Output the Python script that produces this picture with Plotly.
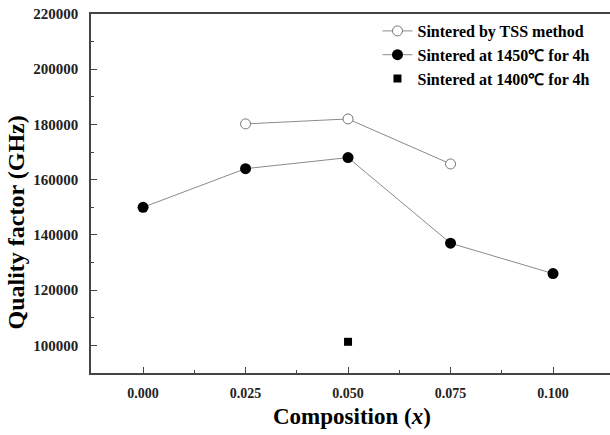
import plotly.graph_objects as go

x_tss = [0.025, 0.050, 0.075]
q_tss = [180200, 182000, 165700]
x_1450 = [0.000, 0.025, 0.050, 0.075, 0.100]
q_1450 = [150000, 164000, 168000, 137000, 126000]
x_1400 = [0.050]
q_1400 = [101300]
names = ["Sintered by TSS method", "Sintered at 1450\u2103 for 4h", "Sintered at 1400\u2103 for 4h"]
x_ticks = [0.000, 0.025, 0.050, 0.075, 0.100]
x_ticklabels = ["0.000", "0.025", "0.050", "0.075", "0.100"]
x_minor_ticks = [0.0125, 0.0375, 0.0625, 0.0875]
y_ticks = [100000, 120000, 140000, 160000, 180000, 200000, 220000]
y_ticklabels = ["100000", "120000", "140000", "160000", "180000", "200000", "220000"]
x_title = "Composition (<i>x</i>)"
y_title = "Quality factor (GHz)"

font = "Liberation Serif"
fig = go.Figure()
fig.add_trace(go.Scatter(x=x_tss, y=q_tss, mode="lines+markers", name=names[0],
                         line=dict(color="#8a8a8a", width=1),
                         marker=dict(symbol="circle", size=10, color="white",
                                     line=dict(color="#777777", width=1))))
fig.add_trace(go.Scatter(x=x_1450, y=q_1450, mode="lines+markers", name=names[1],
                         line=dict(color="#8a8a8a", width=1),
                         marker=dict(symbol="circle", size=11, color="black")))
fig.add_trace(go.Scatter(x=x_1400, y=q_1400, mode="markers", name=names[2],
                         marker=dict(symbol="square", size=8, color="black")))

fig.update_layout(
    width=610, height=435,
    margin=dict(l=91, r=0, t=14, b=62),
    plot_bgcolor="white", paper_bgcolor="white",
    font=dict(family=font, color="black"),
    showlegend=True,
    legend=dict(x=0.552, y=1.0, xanchor="left", yanchor="top",
                font=dict(family=font, size=16, color="black", weight="bold"),
                bgcolor="rgba(0,0,0,0)", tracegroupgap=0, itemwidth=30),
    annotations=[
        dict(text=x_title, xref="paper", yref="paper", x=0.503, y=-0.12,
             xanchor="center", yanchor="middle", showarrow=False,
             font=dict(family=font, size=23, color="black", weight="bold")),
        dict(text=y_title, xref="paper", yref="paper", x=-0.144, y=0.42,
             xanchor="center", yanchor="middle", showarrow=False, textangle=-90,
             font=dict(family=font, size=24, color="black", weight="bold")),
    ],
)
fig.update_xaxes(range=[-0.0127, 0.1139], tickvals=x_ticks, ticktext=x_ticklabels,
                 ticks="inside", ticklen=6, tickwidth=1, tickcolor="#444",
                 showline=True, linecolor="#444", linewidth=1.5, mirror=True,
                 showgrid=False, zeroline=False, automargin=False,
                 ticklabelstandoff=6,
                 minor=dict(ticks="inside", ticklen=3, tickvals=x_minor_ticks, tickcolor="#444"),
                 tickfont=dict(family=font, size=14, color="#222", weight="bold"))
fig.update_yaxes(range=[90000, 220000], tickvals=y_ticks, ticktext=y_ticklabels,
                 ticks="inside", ticklen=6, tickwidth=1, tickcolor="#444",
                 showline=True, linecolor="#444", linewidth=1.5, mirror=False,
                 showgrid=False, zeroline=False, automargin=False,
                 ticklabelstandoff=8,
                 minor=dict(ticks="inside", ticklen=3, dtick=10000, tick0=0, tickcolor="#444"),
                 tickfont=dict(family=font, size=15, color="#222", weight="bold"))
fig.write_html("out.html", config={"displayModeBar": False},
               post_script="document.body.style.margin='0';document.body.style.overflow='hidden';")
